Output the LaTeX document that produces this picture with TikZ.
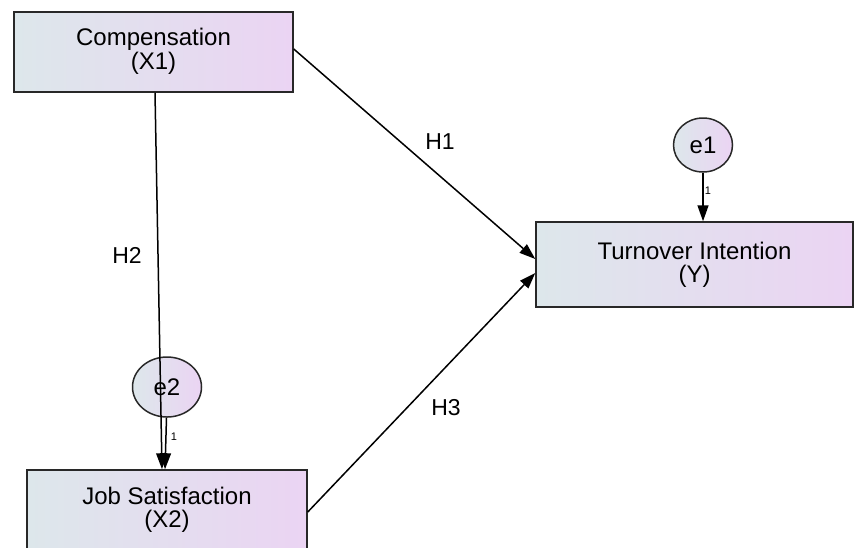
\documentclass[tikz,border=0pt]{standalone}
\usepackage{fontspec}
\setmainfont{Liberation Sans}
\usetikzlibrary{arrows.meta,calc,shapes.geometric}
\definecolor{gleft}{RGB}{221,231,235}
\definecolor{gright}{RGB}{235,212,243}
\definecolor{edgecol}{RGB}{40,40,40}
\tikzset{
  varbox/.style={draw=edgecol, line width=0.75pt, left color=gleft, right color=gright,
    align=center, inner sep=0pt, font=\fontsize{12}{11.5}\selectfont},
  errell/.style={draw=edgecol, line width=0.75pt, ellipse, shading angle=135,
    left color=gleft, right color=gright, inner sep=0pt, font=\fontsize{12}{14}\selectfont},
  arr/.style={line width=0.75pt, -{Triangle[length=8pt,width=5.5pt]}},
  hlab/.style={font=\fontsize{11.5}{13}\selectfont, inner sep=0pt},
  onelab/.style={font=\fontsize{5.5}{6}\selectfont, inner sep=0pt}
}
\begin{document}
\begin{tikzpicture}[x=0.5pt,y=-0.5pt]
\useasboundingbox (0,0) rectangle (854,547);
\clip (0,0) rectangle (854,547);
\fill[white] (0,0) rectangle (854,547);
% boxes
\node[varbox, minimum width=139.5pt, minimum height=40pt] (comp) at (153.5,52) {\raisebox{-1.5pt}{\begin{tabular}{@{}c@{}}Compensation\\(X1)\end{tabular}}};
\node[varbox, minimum width=158.5pt, minimum height=42.5pt] (turn) at (694.5,264.5) {Turnover Intention\\(Y)};
\node[varbox, minimum width=140pt, minimum height=40pt] (job) at (167,510) {Job Satisfaction\\(X2)};
% error terms
\node[errell, minimum width=29.5pt, minimum height=27pt] (e1) at (703,145) {e1};
% connectors
\draw[arr] ([yshift=1.5pt]comp.east) -- ([yshift=2.75pt]turn.west);
\draw[arr] ([yshift=-1pt]job.east) -- ([yshift=-4.25pt]turn.west);
\draw[arr] (e1.south) -- (e1.south |- turn.north);
% e2 drawn, then H2 path over it
\node[errell, minimum width=34.5pt, minimum height=30pt] (e2) at (167,387) {e2};
\draw[arr] ([xshift=-0.25pt]e2.south) -- ([xshift=-1pt]job.north);
\draw[arr] ([xshift=0.75pt]comp.south) -- ([xshift=-2.5pt]job.north);
% labels
\node[hlab] (h1) at (440,142) {H1};
\node[hlab] (h2) at (127,255) {H2};
\node[hlab] (h3) at (446,408) {H3};
\node[onelab] (one1) at (708,191) {1};
\node[onelab] (one2) at (174,437) {1};
\end{tikzpicture}
\end{document}
